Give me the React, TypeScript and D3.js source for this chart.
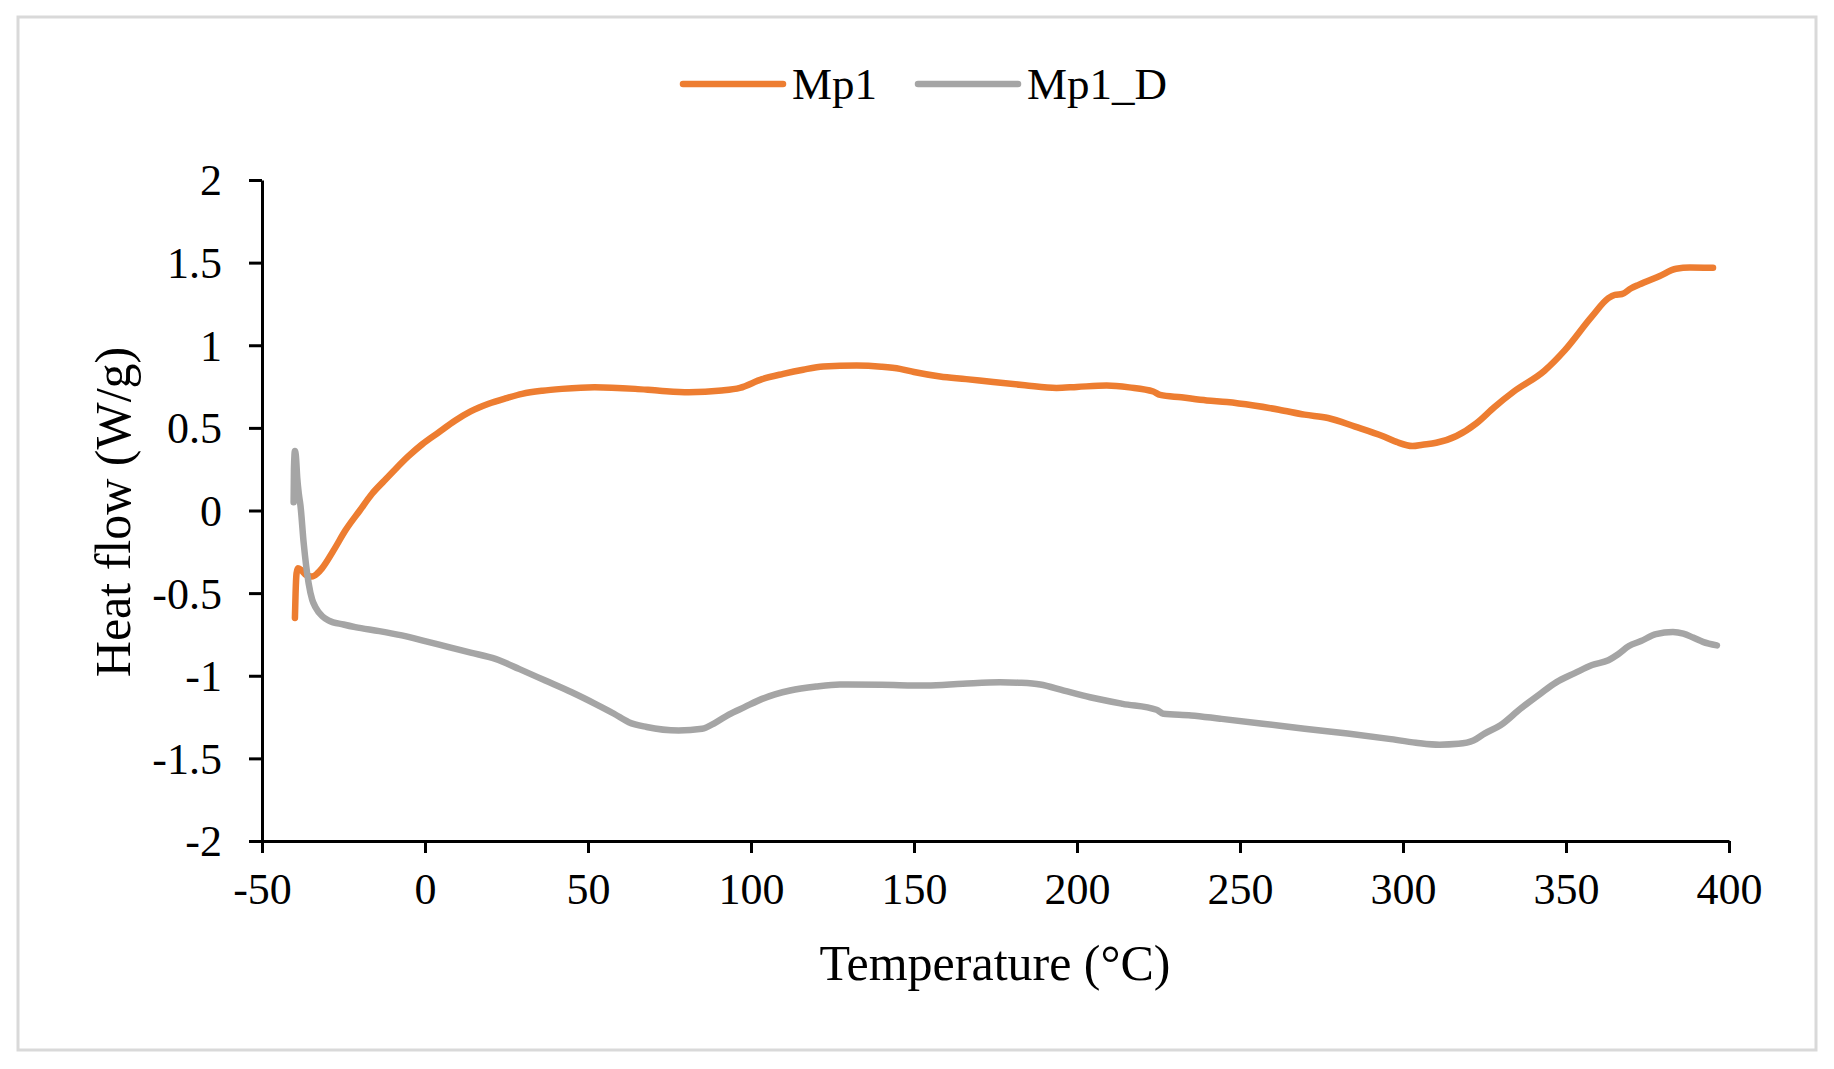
import React, { useEffect, useRef } from "react";
import * as d3 from "d3";

// Mp1 (orange) trace
const mp1Temp = [
  -39.9, -39.7, -39.4, -39.0, -38.0, -36.5, -34.7, -33.0, -31.6, -28, -24.4, -20, -16.3, -12.5, -9.1, -5, -0.9, 4,
  9.3, 14, 19.5, 25, 29.8, 36, 42, 52, 64.5, 72, 80.9, 91, 96.6, 103.4, 109.9, 116, 122.2, 132.4, 140, 145.7, 150,
  158, 166, 174.3, 184, 193.7, 200, 209.1, 216, 223.4, 225.5, 232, 239.8, 246, 254.2, 262, 269.8, 277, 285.3, 293.7,
  298, 302.9, 306, 310.2, 316.4, 322.6, 328, 334, 343.4, 349.6, 357.9, 363, 365, 367.2, 370, 372.4, 378.6, 383.8,
  388, 395.1,
];
const mp1Flow = [
  -0.65, -0.5, -0.38, -0.35, -0.36, -0.39, -0.4, -0.38, -0.35, -0.24, -0.12, 0.0, 0.1, 0.18, 0.25, 0.33, 0.4, 0.47,
  0.545, 0.6, 0.646, 0.68, 0.706, 0.725, 0.736, 0.746, 0.736, 0.725, 0.716, 0.726, 0.742, 0.795, 0.827, 0.852, 0.871,
  0.877, 0.87, 0.857, 0.838, 0.811, 0.795, 0.777, 0.758, 0.742, 0.748, 0.756, 0.745, 0.72, 0.7, 0.685, 0.666, 0.656,
  0.635, 0.61, 0.58, 0.56, 0.508, 0.451, 0.415, 0.39, 0.398, 0.41, 0.451, 0.529, 0.625, 0.72, 0.846, 0.969, 1.173,
  1.285, 1.305, 1.31, 1.345, 1.367, 1.418, 1.463, 1.47, 1.469,
];

// Mp1_D (gray) trace
const mp1dTemp = [
  -40.3, -40.2, -39.9, -39.6, -39.2, -38.7, -38.2, -37.2, -35.7, -34.6, -33.6, -31.5, -29.5, -25, -21.4, -14, -7.1, 0,
  7.3, 14, 21.6, 29, 36.9, 45, 52.2, 58, 62.5, 68, 77.8, 85, 89, 93.2, 98, 103.4, 112, 120, 127.3, 140, 153.9, 165,
  176.4, 182, 188.7, 196, 204, 214, 224.4, 226.5, 235, 243.9, 257, 269.8, 283, 295.7, 304, 311.2, 317, 321.6, 325,
  329.9, 336, 342.3, 347, 352.7, 358, 363, 366, 369.3, 373, 377.6, 382.8, 386, 389, 392, 396.3,
];
const mp1dFlow = [
  0.05, 0.25, 0.36, 0.33, 0.2, 0.1, 0.03, -0.2, -0.44, -0.54, -0.585, -0.64, -0.666, -0.69, -0.706, -0.73, -0.756,
  -0.79, -0.827, -0.86, -0.898, -0.96, -1.029, -1.1, -1.17, -1.23, -1.281, -1.31, -1.331, -1.321, -1.285, -1.235, -1.19,
  -1.14, -1.089, -1.065, -1.053, -1.055, -1.059, -1.048, -1.039, -1.042, -1.053, -1.09, -1.13, -1.17, -1.206, -1.23,
  -1.24, -1.26, -1.29, -1.321, -1.35, -1.382, -1.405, -1.417, -1.412, -1.392, -1.35, -1.3, -1.2, -1.106, -1.04,
  -0.984, -0.935, -0.906, -0.87, -0.82, -0.79, -0.748, -0.735, -0.745, -0.769, -0.795, -0.816,
];

const xTicks = [-50, 0, 50, 100, 150, 200, 250, 300, 350, 400];
const yTicks = [-2, -1.5, -1, -0.5, 0, 0.5, 1, 1.5, 2];
const seriesNames = ["Mp1", "Mp1_D"];
const seriesColors = ["#ED7D31", "#A5A5A5"];

const W = 1834;
const H = 1069;
const FONT = "'Liberation Serif', 'Times New Roman', serif";

const App: React.FC = () => {
  const svgRef = useRef<SVGSVGElement | null>(null);

  useEffect(() => {
    document.body.style.margin = "0";
    if (!svgRef.current) return;
    const svg = d3.select(svgRef.current);
    svg.selectAll("*").remove();

    const x = d3.scaleLinear().domain([-50, 400]).range([262, 1729]);
    const y = d3.scaleLinear().domain([-2, 2]).range([841, 180]);

    // outer frame
    svg
      .append("rect")
      .attr("x", 18)
      .attr("y", 17)
      .attr("width", 1798)
      .attr("height", 1033)
      .attr("fill", "#fff")
      .attr("stroke", "#d9d9d9")
      .attr("stroke-width", 3);

    // x axis
    const xAxis = svg
      .append("g")
      .attr("transform", `translate(0,${y(-2)})`)
      .call(
        d3
          .axisBottom(x)
          .tickValues(xTicks)
          .tickSize(12)
          .tickSizeOuter(0)
          .tickPadding(20)
          .tickFormat((d) => `${d}`)
      );
    xAxis.select(".domain").attr("stroke", "#000").attr("stroke-width", 3);
    xAxis.selectAll(".tick line").attr("stroke", "#000").attr("stroke-width", 3);
    xAxis
      .selectAll(".tick text")
      .attr("font-family", FONT)
      .attr("font-size", 44)
      .attr("fill", "#000")
      .attr("dy", "0.71em");

    // y axis
    const yAxis = svg
      .append("g")
      .attr("transform", `translate(${x(-50)},0)`)
      .call(d3.axisLeft(y).tickValues(yTicks).tickSize(13).tickSizeOuter(0).tickPadding(27).tickFormat((d) => `${d}`));
    yAxis.select(".domain").attr("stroke", "#000").attr("stroke-width", 3);
    yAxis.selectAll(".tick line").attr("stroke", "#000").attr("stroke-width", 3);
    yAxis
      .selectAll(".tick text")
      .attr("font-family", FONT)
      .attr("font-size", 44)
      .attr("fill", "#000")
      .attr("dy", "0.34em");

    // series
    const line = d3
      .line<[number, number]>()
      .x((d) => x(d[0]))
      .y((d) => y(d[1]))
      .curve(d3.curveMonotoneX);

    const series: [number, number][][] = [
      mp1Temp.map((t, i) => [t, mp1Flow[i]]),
      mp1dTemp.map((t, i) => [t, mp1dFlow[i]]),
    ];
    series.forEach((pts, i) => {
      svg
        .append("path")
        .attr("d", line(pts) || "")
        .attr("fill", "none")
        .attr("stroke", seriesColors[i])
        .attr("stroke-width", 6.5)
        .attr("stroke-linecap", "round")
        .attr("stroke-linejoin", "round");
    });

    // legend
    const legendX = [683, 918];
    seriesNames.forEach((name, i) => {
      svg
        .append("line")
        .attr("x1", legendX[i])
        .attr("x2", legendX[i] + 100)
        .attr("y1", 84)
        .attr("y2", 84)
        .attr("stroke", seriesColors[i])
        .attr("stroke-width", 6.5)
        .attr("stroke-linecap", "round");
      svg
        .append("text")
        .attr("x", legendX[i] + 109)
        .attr("y", 99)
        .attr("font-family", FONT)
        .attr("font-size", 45)
        .attr("fill", "#000")
        .text(name);
    });

    // axis titles
    svg
      .append("text")
      .attr("x", 995)
      .attr("y", 980)
      .attr("text-anchor", "middle")
      .attr("font-family", FONT)
      .attr("font-size", 50)
      .attr("fill", "#000")
      .text("Temperature (°C)");

    svg
      .append("text")
      .attr("transform", `translate(130,512) rotate(-90)`)
      .attr("text-anchor", "middle")
      .attr("font-family", FONT)
      .attr("font-size", 50)
      .attr("fill", "#000")
      .text("Heat flow (W/g)");
  }, []);

  return <svg ref={svgRef} width={W} height={H} style={{ display: "block" }} />;
};

export default App;
